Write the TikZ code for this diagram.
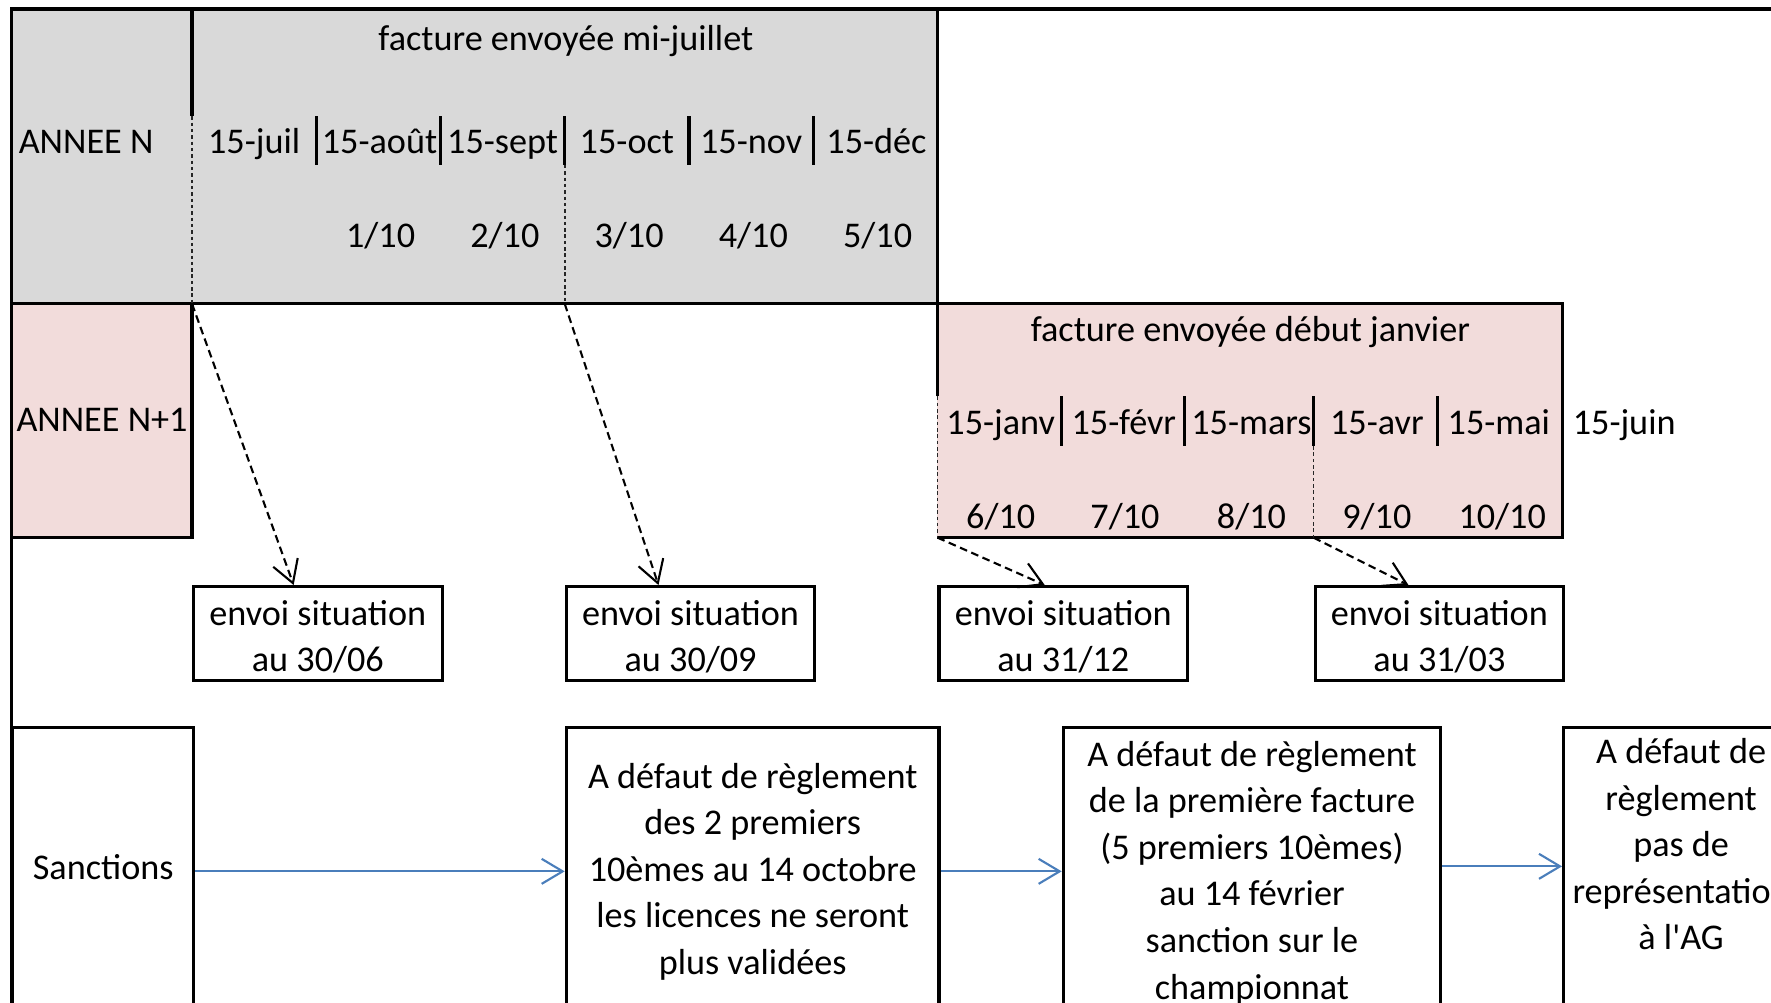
\documentclass[tikz,border=0pt]{standalone}
\usepackage{fontspec}
\setmainfont{Carlito}
\usetikzlibrary{arrows.meta,calc}
\definecolor{mygray}{RGB}{217,217,217}
\definecolor{mypink}{RGB}{242,220,219}
\definecolor{myblue}{RGB}{74,126,187}

\begin{document}
\begin{tikzpicture}[x=0.11295mm, y=-0.11295mm,
    font=\fontsize{10.3}{13.25}\selectfont,
    border/.style={line width=0.9pt},
    guide/.style={line width=0.5pt, black!85, dash pattern=on 1pt off 0.8pt},
    month/.style={anchor=base, inner sep=0},
    situbox/.style={draw, line width=0.9pt, anchor=north west, inner sep=0, align=center,
        execute at begin node={\spaceskip=\fontdimen2\font\xspaceskip=\fontdimen2\font},
        text width=24.85mm, text height=3.84mm, text depth=5.54mm},
    sanctbox/.style={draw, line width=0.9pt, anchor=north west, inner sep=0, align=center,
        execute at begin node={\spaceskip=\fontdimen2\font\xspaceskip=\fontdimen2\font}},
    situarrow/.style={line width=0.6pt, dash pattern=on 2.2pt off 1.3pt,
        -{Straight Barb[length=2.2mm, width=2.6mm]}},
    sanctarrow/.style={line width=0.6pt, myblue,
        -{Straight Barb[length=2.1mm, width=2.5mm]}}]
    \useasboundingbox (0,0) rectangle (1568,888);
    \clip (0,0) rectangle (1568,888);

    % Fonds
    \fill[mygray] (10,8) rectangle (830,269);
    \fill[mypink] (10,269) rectangle (170,476);
    \fill[mypink] (830,269) rectangle (1383,476);

    % Cadre
    \draw[border] (1600,8) -- (10,8) -- (10,930);
    \draw[border] (830,8) -- (830,269);
    \draw[border] (10,269) -- (830,269);
    \draw[border] (170,8) -- (170,103);
    \draw[border] (170,269) -- (170,476) -- (10,476);
    \draw[border] (830,351) -- (830,269) -- (1383,269) -- (1383,476) -- (830,476);

    % Separateurs des mois
    \draw[border] (280,103) -- (280,146);
    \draw[border] (390,103) -- (390,146);
    \draw[border] (500,103) -- (500,146);
    \draw[border] (610,103) -- (610,146);
    \draw[border] (720,103) -- (720,146);
    \draw[border] (939.5,351) -- (939.5,395);
    \draw[border] (1049,351) -- (1049,395);
    \draw[border] (1163,351) -- (1163,395);
    \draw[border] (1273,351) -- (1273,395);

    % Annee N
    \node[month] (titreN) at (501,45) {facture envoyée mi-juillet};
    \node[month, anchor=base west] (anneeN) at (16,136) {ANNEE N};
    \node[month] (mjuil) at (225,136) {15-juil};
    \node[month] (maout) at (336,136) {15-août};
    \node[month] (msept) at (445,136) {15-sept};
    \node[month] (moct) at (555,136) {15-oct};
    \node[month] (mnov) at (665,136) {15-nov};
    \node[month] (mdec) at (776,136) {15-déc};
    \node[month] (f1) at (337,219) {1/10};
    \node[month] (f2) at (447,219) {2/10};
    \node[month] (f3) at (557,219) {3/10};
    \node[month] (f4) at (667,219) {4/10};
    \node[month] (f5) at (777,219) {5/10};

    % Annee N+1
    \node[month, anchor=base west] (anneeNN) at (14,382) {ANNEE N+1};
    \node[month] (titreNN) at (1107,302) {facture envoyée début janvier};
    \node[month] (mjanv) at (886,385) {15-janv};
    \node[month] (mfevr) at (995,385) {15-févr};
    \node[month] (mmars) at (1108,385) {15-mars};
    \node[month] (mavr) at (1219,385) {15-avr};
    \node[month] (mmai) at (1327,385) {15-mai};
    \node[month] (mjuin) at (1438,385) {15-juin};
    \node[month] (f6) at (886,468) {6/10};
    \node[month] (f7) at (996,468) {7/10};
    \node[month] (f8) at (1108,468) {8/10};
    \node[month] (f9) at (1219,468) {9/10};
    \node[month] (f10) at (1330,468) {10/10};

    % Envoi des situations
    \node[situbox] (situ0630) at (170,518) {envoi situation\\au 30/06};
    \node[situbox] (situ0930) at (500,518) {envoi situation\\au 30/09};
    \node[situbox] (situ1231) at (830,518) {envoi situation\\au 31/12};
    \node[situbox] (situ0331) at (1163,518) {envoi situation\\au 31/03};

    \coordinate (djuil) at (170,269);
    \coordinate (doct) at (500,269);
    \coordinate (djanv) at (830,476);
    \coordinate (davr) at (1163,476);
    \draw[guide] (170,103) -- (djuil);
    \draw[guide] (500,146) -- (doct);
    \draw[guide] (830,351) -- (djanv);
    \draw[guide] (1163,395) -- (davr);
    \draw[situarrow] (djuil) -- ($(situ0630.north west)+(90,0)$);
    \draw[situarrow] (doct) -- ($(situ0930.north west)+(83,0)$);
    \draw[situarrow] (djanv) -- ($(situ1231.north west)+(95,0)$);
    \draw[situarrow] (davr) -- ($(situ0331.north west)+(84,0)$);

    % Sanctions
    \node[sanctbox, text width=18.07mm, text height=15.19mm, text depth=20.61mm]
        (sanct) at (10,643) {Sanctions};
    \node[sanctbox, text width=37.27mm, text height=6.04mm, text depth=29.76mm]
        (licences) at (500,643) {A défaut de règlement\\des 2 premiers\\10èmes au 14 octobre\\
        les licences ne seront\\plus validées};
    \node[sanctbox, text width=37.73mm, text height=3.84mm, text depth=31.97mm]
        (champ) at (940,643) {A défaut de règlement\\de la première facture\\
        (5 premiers 10èmes)\\au 14 février\\sanction sur le\\championnat};
    \node[sanctbox, text width=23.49mm, text height=3.56mm, text depth=32.25mm]
        (assemblee) at (1383,643) {A défaut de\\règlement\\pas de\\représentation\\à l\textquotesingle AG};
    \draw[sanctarrow] (sanct.mid east) -- (sanct.mid east -| licences.west);
    \draw[sanctarrow] (licences.east |- sanct.mid east) -- (champ.west |- sanct.mid east);
    \draw[sanctarrow] ([yshift=0.5mm]champ.east |- sanct.mid east)
        -- ([yshift=0.5mm]assemblee.west |- sanct.mid east);
\end{tikzpicture}
\end{document}
